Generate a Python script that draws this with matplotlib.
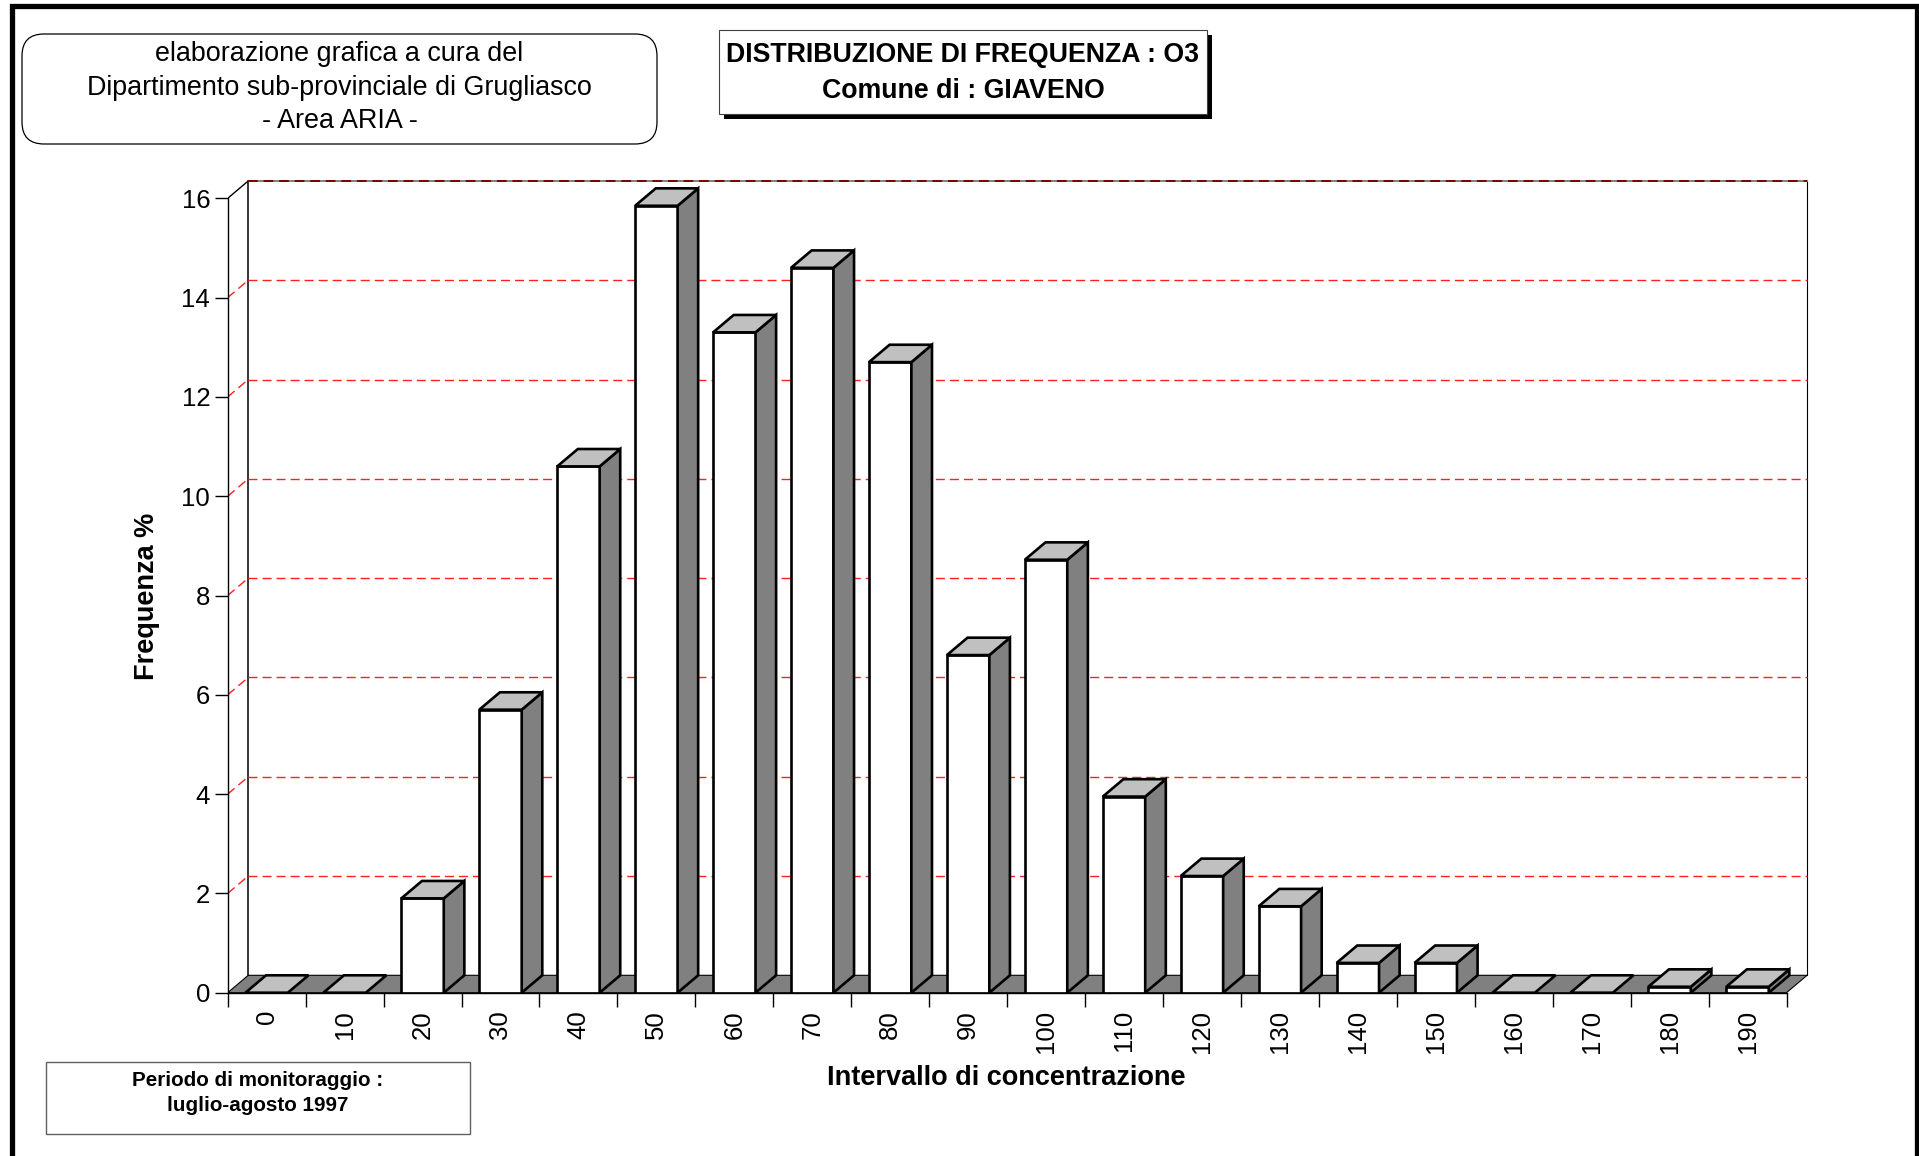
import matplotlib
matplotlib.use("Agg")
import matplotlib.pyplot as plt
from matplotlib.patches import Polygon, Rectangle, FancyBboxPatch
import numpy as np

plt.rcParams['font.family'] = ['Liberation Sans', 'DejaVu Sans']

# ---------------- data ----------------
categories = ['0', '10', '20', '30', '40', '50', '60', '70', '80', '90',
              '100', '110', '120', '130', '140', '150', '160', '170', '180', '190']
frequenza = [0.0, 0.0, 1.9, 5.7, 10.6, 15.85, 13.3, 14.6, 12.7, 6.8,
             8.72, 3.95, 2.35, 1.74, 0.6, 0.6, 0.0, 0.0, 0.12, 0.12]
y_ticks = [0, 2, 4, 6, 8, 10, 12, 14, 16]

title_lines = ['DISTRIBUZIONE DI FREQUENZA : O3', 'Comune di : GIAVENO']
credit_lines = ['elaborazione grafica a cura del',
                'Dipartimento sub-provinciale di Grugliasco',
                '- Area ARIA -']
period_lines = ['Periodo di monitoraggio :', 'luglio-agosto 1997']
x_label = 'Intervallo di concentrazione'
y_label = 'Frequenza %'

# ---------------- figure ----------------
W, H = 1919, 1156
fig = plt.figure(figsize=(W / 100, H / 100), dpi=100)
fig.patch.set_facecolor('white')

# overlay axes in pixel coordinates for page decorations
ov = fig.add_axes([0, 0, 1, 1])
ov.set_xlim(0, W)
ov.set_ylim(H, 0)
ov.axis('off')

# outer frame (top, left, right)
ov.plot([12, 12, 1916.5, 1916.5], [H + 10, 6, 6, H + 10], color='black',
        lw=3.8, solid_joinstyle='miter')

# credit rounded box
ov.add_patch(FancyBboxPatch((22, 34), 635, 110,
                            boxstyle='round,pad=0,rounding_size=22',
                            fc='white', ec='black', lw=0.9))
for txt, yb in zip(credit_lines, [61, 95, 128]):
    ov.text(339.5, yb, txt, ha='center', va='baseline', fontsize=19.4)

# title box with shadow
ov.add_patch(Rectangle((724, 35), 488, 84, fc='black', ec='none'))
ov.add_patch(Rectangle((718.5, 30), 488, 84, fc='white', ec='#404040', lw=0.8))
for txt, yb in zip(title_lines, [61.5, 97.5]):
    ov.text(963, yb, txt, ha='center', va='baseline', fontsize=19.3,
            fontweight='bold')

# period box
ov.add_patch(Rectangle((45.5, 1062), 424, 72, fc='white', ec='#606060', lw=1.0))
for txt, yb in zip(period_lines, [1086.5, 1111]):
    ov.text(258, yb, txt, ha='center', va='baseline', fontsize=14.9,
            fontweight='bold')

# axis labels
ov.text(1006, 1085, x_label, ha='center', va='baseline', fontsize=19.5,
        fontweight='bold')
ov.text(147, 596, y_label, ha='center', va='center', rotation=90,
        fontsize=19.5, fontweight='bold')

# ---------------- main pseudo-3D chart ----------------
n = len(categories)
sx, sy = 77.94, 49.65          # pixels per data unit
x0px, y0px = 227.7, 992.7      # data origin in pixels
xmax, ymax = 20.4, 16.5
ax = fig.add_axes([x0px / W, (H - y0px) / H, xmax * sx / W, ymax * sy / H])
ax.set_xlim(0, xmax)
ax.set_ylim(0, ymax)
ax.patch.set_alpha(0)

DX = 20.6 / sx                 # depth offset in data units
DY = 17.4 / sy
ytop = y_ticks[-1]
bw = 0.544

# back wall
ax.add_patch(Rectangle((DX, DY), n, ytop, fc='white', ec='none', zorder=0.5))
ax.plot([DX, DX], [DY, ytop + DY], color='black', lw=1.1, zorder=1)
ax.plot([n + DX, n + DX], [DY, ytop + DY], color='black', lw=0.8, zorder=1)
ax.plot([DX, n + DX], [ytop + DY] * 2, color='#808080', lw=1.4, zorder=1)
ax.plot([DX, n + DX], [ytop + DY] * 2, color='#800000', lw=1.4,
        ls=(0, (5, 3)), zorder=1.1)
ax.plot([0, DX], [ytop, ytop + DY], color='black', lw=1.0, zorder=1)

# grid lines (back wall + side wall)
dash = (0, (6.5, 3.6))
for yv in y_ticks[1:-1]:
    ax.plot([DX, n + DX], [yv + DY] * 2, color='#ff2020', lw=1.0, ls=dash, zorder=1)
    ax.plot([0, DX], [yv, yv + DY], color='#ff2020', lw=1.0, ls=dash, zorder=1)

# floor
ax.add_patch(Polygon([(0, 0), (n, 0), (n + DX, DY), (DX, DY)], closed=True,
                     fc='#808080', ec='black', lw=0.8, zorder=2))

# bars
xc = np.arange(n) + 0.5
ax.bar(xc, frequenza, width=bw, color='white', edgecolor='black', lw=1.9,
       zorder=4)
for xi, v in zip(xc, frequenza):
    xl, xr = xi - bw / 2, xi + bw / 2
    if v > 0:
        ax.add_patch(Polygon([(xr, 0), (xr + DX, DY), (xr + DX, v + DY), (xr, v)],
                             closed=True, fc='#808080', ec='black', lw=1.9,
                             zorder=4, joinstyle='miter'))
    ax.add_patch(Polygon([(xl, v), (xr, v), (xr + DX, v + DY), (xl + DX, v + DY)],
                         closed=True, fc='#c0c0c0', ec='black', lw=1.9,
                         zorder=4.5, joinstyle='miter'))

# axes / ticks
for s in ['top', 'right']:
    ax.spines[s].set_visible(False)
ax.spines['left'].set_bounds(0, ytop)
ax.spines['bottom'].set_bounds(0, n)
ax.spines['left'].set_linewidth(1.0)
ax.spines['bottom'].set_linewidth(1.0)
ax.spines['left'].set_zorder(5)
ax.spines['bottom'].set_zorder(5)

ax.set_yticks(y_ticks)
ax.set_yticklabels([str(t) for t in y_ticks])
ax.tick_params(axis='y', direction='out', length=9.1, width=1.0,
               labelsize=18.5, pad=3.5)
ax.set_xticks(np.arange(n + 1))
ax.set_xticklabels([])
ax.tick_params(axis='x', which='major', direction='out', length=10, width=1.0)
ax.set_xticks(xc, minor=True)
ax.set_xticklabels(categories, minor=True, rotation=90)
ax.tick_params(axis='x', which='minor', length=0, pad=12.5, labelsize=18.5)

fig.savefig('out.png', dpi=100, facecolor='white')
